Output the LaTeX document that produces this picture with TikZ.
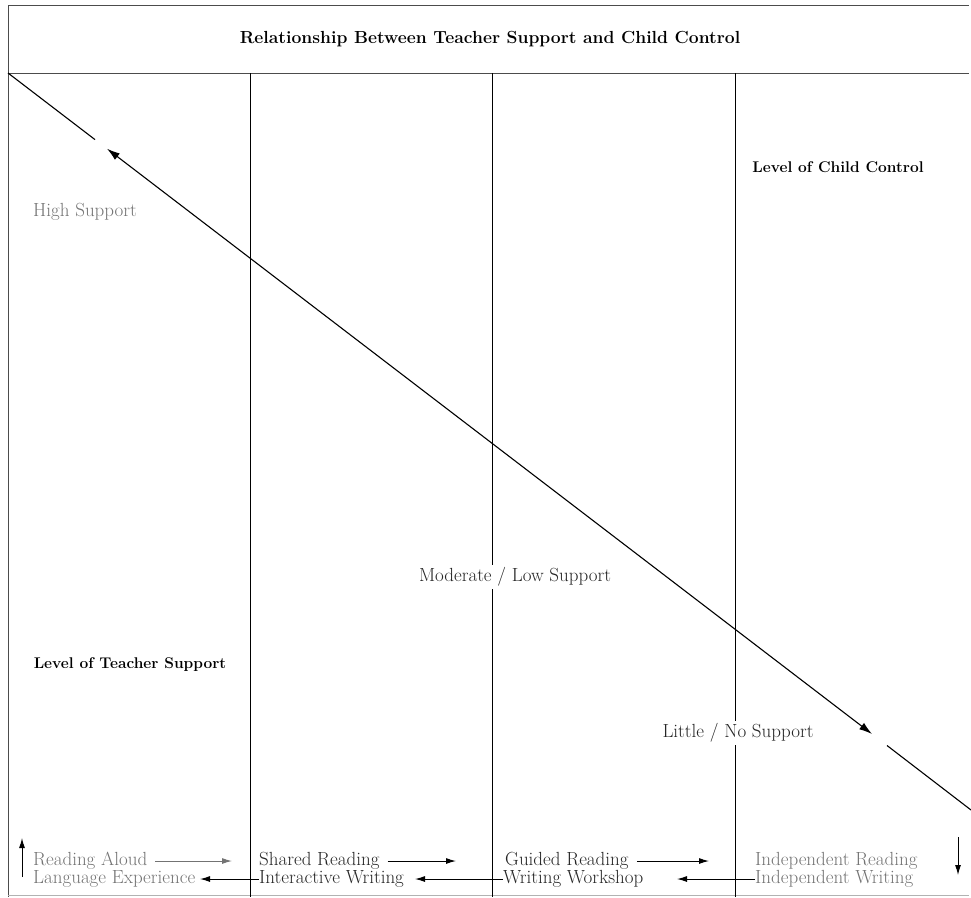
\documentclass[tikz,border=0pt]{standalone}
\usepackage{tikz}
\usetikzlibrary{arrows.meta}

\begin{document}
\begin{tikzpicture}[x=1pt,y=-1pt,>={Latex[length=10pt,width=6pt]}]
\tikzstyle{label}=[inner sep=0pt,text=black!85,font=\fontsize{19}{21}\selectfont]
\tikzstyle{pale}=[label,text=black!55]
\tikzstyle{heading}=[inner sep=0pt,font=\fontsize{15.5}{17}\selectfont\bfseries]
\tikzstyle{flow}=[->,line width=1pt]
\useasboundingbox (0,0) rectangle (971,897);

\draw[line width=0.8pt,black!70] (8,5) -- (969,5);
\draw[line width=0.8pt,black!70] (8,73) -- (969,73);
\draw[line width=0.8pt,black!70] (8,5) -- (8,897);
\draw[line width=0.5pt,black!30] (8,895) -- (969,895);
\foreach \x in {250,492,735}
  \draw[line width=0.8pt] (\x,73) -- (\x,897);

\node[heading,font=\fontsize{17.5}{19}\selectfont\bfseries] (title) at (490,39) {Relationship Between Teacher Support and Child Control};

\coordinate (c0) at (8,73);
\coordinate (c1) at (95,139.6);
\coordinate (h1) at (107,148.7);
\coordinate (h2) at (872,734);
\coordinate (c2) at (887,745.5);
\coordinate (c3) at (971,810);
\draw[line width=1.1pt] (c0) -- (c1);
\draw[{Latex[length=13pt,width=8pt]}-{Latex[length=13pt,width=8pt]},line width=1.1pt] (h1) -- (h2);
\draw[line width=1.1pt] (c2) -- (c3);

\node[pale] (high) at (85,212) {High Support};
\node[heading] (child) at (838,167) {Level of Child Control};
\node[label,fill=white,inner sep=3pt] (moderate) at (515,577) {Moderate / Low Support};
\node[heading] (teacher) at (130,665) {Level of Teacher Support};
\node[label,fill=white,inner sep=3pt] (little) at (738,733) {Little / No Support};

\node[pale,anchor=west] (aloud) at (33,861) {Reading Aloud};
\node[label,anchor=west] (shared) at (259,861) {Shared Reading};
\node[label,anchor=west] (guided) at (505,861) {Guided Reading};
\node[pale,anchor=west] (indread) at (755,861) {Independent Reading};
\node[pale,anchor=west] (langexp) at (33,879) {Language Experience};
\node[label,anchor=west] (interw) at (259,879) {Interactive Writing};
\node[label,anchor=west] (workshop) at (503,879) {Writing Workshop};
\node[pale,anchor=west] (indwrit) at (755,879) {Independent Writing};

\coordinate (r1) at (232,861);
\coordinate (r2) at (456,861);
\coordinate (r3) at (709,861);
\coordinate (w1) at (200,879);
\coordinate (w2) at (415,879);
\coordinate (w3) at (677,879);
\draw[flow,black!55,shorten <=8pt] (aloud.east) -- (r1);
\draw[flow,shorten <=8pt] (shared.east) -- (r2);
\draw[flow,shorten <=8pt] (guided.east) -- (r3);
\draw[flow] (interw.west) -- (w1);
\draw[flow] (workshop.west) -- (w2);
\draw[flow] (indwrit.west) -- (w3);

\coordinate (up0) at (22,877);
\coordinate (up1) at (22,838);
\coordinate (dn0) at (958,837);
\coordinate (dn1) at (958,875);
\draw[flow] (up0) -- (up1);
\draw[flow] (dn0) -- (dn1);
\end{tikzpicture}
\end{document}
